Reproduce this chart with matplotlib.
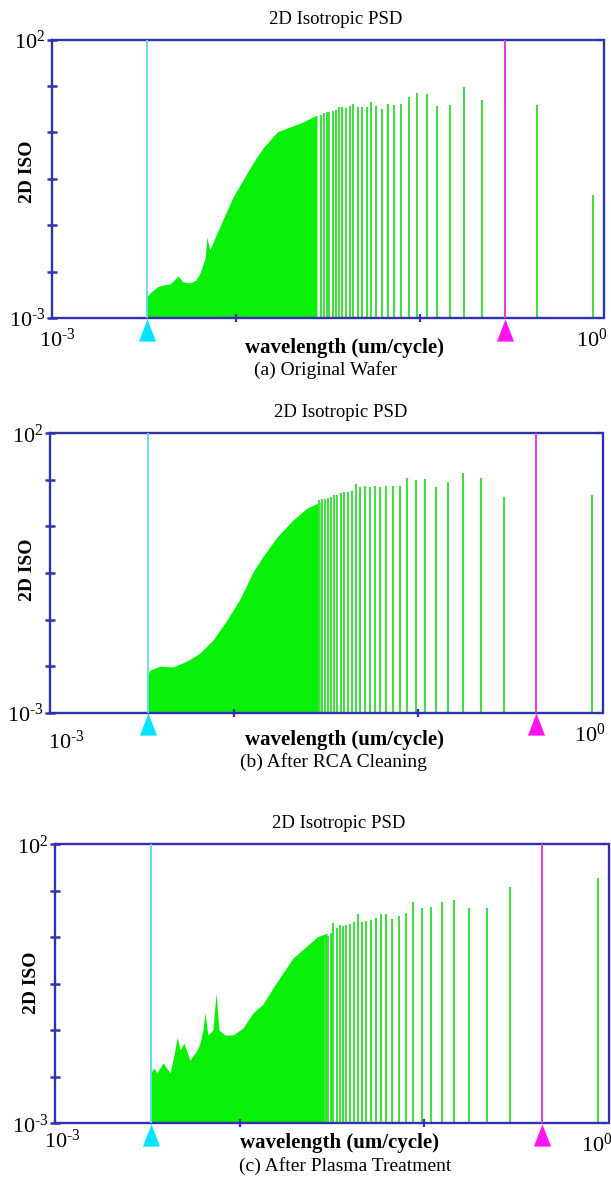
import matplotlib.pyplot as plt
import matplotlib.transforms as mtransforms
from matplotlib.ticker import NullLocator

# Liberation Serif stands in for Times
plt.rcParams['font.family'] = ['Liberation Serif', 'DejaVu Serif']
plt.rcParams['mathtext.fontset'] = 'custom'
plt.rcParams['mathtext.rm'] = 'Liberation Serif'
plt.rcParams['mathtext.it'] = 'Liberation Serif:italic'
plt.rcParams['mathtext.bf'] = 'Liberation Serif:bold'

# ------------------------------------------------
# Data
# ------------------------------------------------
# wavelengths (um/cycle) of the separated spectral lines, harmonics 1..30
wavelength = [0.870, 0.435, 0.290, 0.218, 0.174, 0.145, 0.124, 0.109, 0.0967, 0.0870,
              0.0791, 0.0725, 0.0669, 0.0621, 0.0580, 0.0544, 0.0512, 0.0483, 0.0458, 0.0435,
              0.0414, 0.0395, 0.0378, 0.0363, 0.0348, 0.0335, 0.0322, 0.0311, 0.0300, 0.0290]

# PSD of those lines
psd_a = [0.16, 6.7, 7.0, 8.2, 14.0, 6.7, 6.4, 10.5, 11.0, 9.3,
         7.0, 6.7, 7.0, 5.6, 6.4, 7.5, 6.1, 6.1, 6.1, 7.0,
         6.4, 5.9, 6.1, 6.1, 5.4, 5.2, 5.0, 4.9, 4.7, 4.5]
psd_b = [7.8, 6.0, 7.3, 15.6, 19.6, 13.6, 11.0, 15.0, 14.5, 15.6,
         11.4, 11.4, 11.4, 11.0, 11.4, 11.0, 11.4, 10.8, 12.3, 9.4,
         9.0, 9.0, 8.5, 8.0, 7.8, 7.3, 7.0, 6.8, 6.6, 6.4]
psd_c = [24.6, 15.0, 16.9, 7.1, 7.1, 10.0, 9.2, 7.4, 7.1, 9.4,
         5.9, 5.2, 4.5, 5.6, 5.6, 4.7, 4.4, 4.3, 4.1, 5.6,
         4.0, 3.8, 3.6, 3.4, 3.6, 3.2, 3.9, 2.6, 2.3, 2.1]

# envelope of the dense (short wavelength) part of the spectrum
env_wl_a = [0.00328, 0.00341, 0.00373, 0.00401, 0.00438, 0.00484, 0.00515, 0.00562,
            0.00607, 0.00637, 0.00680, 0.00695, 0.00720, 0.00789, 0.00871, 0.00964,
            0.01052, 0.01148, 0.01267, 0.01403, 0.01531, 0.01672, 0.01963, 0.02311, 0.02754]
env_psd_a = [0.00238, 0.00281, 0.00361, 0.00391, 0.00407, 0.00568, 0.00443, 0.00425,
             0.00481, 0.00643, 0.0119, 0.0284, 0.0166, 0.0336, 0.0706, 0.149,
             0.244, 0.401, 0.687, 1.13, 1.57, 2.18, 2.69, 3.30, 4.41]

env_wl_b = [0.00340, 0.00349, 0.00395, 0.00466, 0.00555, 0.00652, 0.00767, 0.00914,
            0.01074, 0.01265, 0.01432, 0.01706, 0.02084, 0.02483, 0.02924]
env_psd_b = [0.0050, 0.0058, 0.0068, 0.0066, 0.0084, 0.0117, 0.0200, 0.0455,
             0.108, 0.330, 0.625, 1.39, 2.80, 4.59, 5.88]

env_wl_c = [0.00331, 0.00344, 0.00356, 0.00385, 0.00420, 0.00441, 0.00459, 0.00476,
            0.00499, 0.00538, 0.00588, 0.00610, 0.00632, 0.00649, 0.00673, 0.00716,
            0.00745, 0.00773, 0.00832, 0.00921, 0.01042, 0.01180, 0.01337, 0.01514,
            0.01714, 0.01945, 0.02311, 0.02626, 0.02973]
env_psd_c = [0.0083, 0.0098, 0.0080, 0.0121, 0.0080, 0.0168, 0.0352, 0.0206,
             0.0275, 0.0136, 0.0206, 0.0275, 0.0470, 0.0949, 0.0382, 0.0470,
             0.216, 0.0470, 0.0382, 0.0382, 0.0511, 0.0949, 0.137, 0.266,
             0.494, 0.916, 1.50, 2.18, 2.57]

# cursor positions (um/cycle)
cyan_pos = [0.00328, 0.00340, 0.00331]
magenta_pos = [0.290, 0.435, 0.435]

captions = ['(a) Original Wafer', '(b) After RCA Cleaning', '(c) After Plasma Treatment']

# ------------------------------------------------
# Styling / layout (pixel positions on a 611 x 1178 canvas)
# ------------------------------------------------
W, H = 611, 1178
axis_col = '#3030b0'
fill_col = '#08f008'
bar_col = '#45dc45'
cyan_line = '#5cd9ee'
cyan_tri = '#00e5ff'
mag_line = '#dc46dc'
mag_tri = '#ff14f0'

# axes box: left, right, top, bottom in px
boxes = [(52, 604, 39.5, 318), (50, 602.7, 433.3, 712.7), (55, 609, 844.3, 1123.3)]
# text anchors: title, xlabel, caption, ylabel, x tick left, x tick right
text_pos = [
    dict(title=(336, 20), xlab=(344, 348), cap=(326, 370), ylab=(28, 172), xl=(57, 340), xr=(592, 340)),
    dict(title=(341, 413), xlab=(344, 740), cap=(333, 762), ylab=(27, 570), xl=(66, 742), xr=(590, 735)),
    dict(title=(339, 823), xlab=(339, 1143), cap=(345, 1166), ylab=(31, 983), xl=(62, 1141), xr=(597, 1145)),
]

bar_sets = [psd_a, psd_b, psd_c]
envelopes = [(env_wl_a, env_psd_a), (env_wl_b, env_psd_b), (env_wl_c, env_psd_c)]

lbl_lo = r'$10^{\text{-}3}$'
lbl_hi = r'$10^{2}$'
lbl_one = r'$10^{0}$'

fig = plt.figure(figsize=(W / 100, H / 100), dpi=100)

tri = [(-0.77, -1.0), (0.77, -1.0), (0.0, 1.0)]
yticks = [10 ** (-3 + 5 * i / 6) for i in range(7)]


def fx(x):
    return x / W


def fy(y):
    return 1 - y / H


for i in range(3):
    l, r, t, b = boxes[i]
    ax = fig.add_axes([fx(l), fy(b), (r - l) / W, (b - t) / H])
    ax.set_xscale('log')
    ax.set_yscale('log')
    ax.set_xlim(1e-3, 1.0)
    ax.set_ylim(1e-3, 1e2)

    # dense part of the spectrum
    ew, ep = envelopes[i]
    ax.fill_between(ew, 1e-3, ep, color=fill_col, lw=0, zorder=1)
    # separated lines
    ax.vlines(wavelength, 1e-3, bar_sets[i], colors=bar_col, lw=1.5, zorder=1.5)

    # cursors
    ax.axvline(cyan_pos[i], color=cyan_line, lw=1.3, zorder=3)
    ax.axvline(magenta_pos[i], color=mag_line, lw=1.5, zorder=3)
    trans = ax.get_xaxis_transform() + mtransforms.ScaledTranslation(0, -0.115, fig.dpi_scale_trans)
    ax.plot([cyan_pos[i]], [0], marker=tri, ms=16, color=cyan_tri, mec='none',
            transform=trans, clip_on=False, zorder=4)
    ax.plot([magenta_pos[i]], [0], marker=tri, ms=16, color=mag_tri, mec='none',
            transform=trans, clip_on=False, zorder=4)

    # frame
    for s in ax.spines.values():
        s.set_color(axis_col)
        s.set_linewidth(1.7)
    ax.spines['top'].set_bounds(1e-3, 0.95)
    ax.spines['bottom'].set_bounds(1e-3, 0.95)

    ax.xaxis.set_minor_locator(NullLocator())
    ax.yaxis.set_minor_locator(NullLocator())
    ax.set_xticks([1e-2, 1e-1])
    ax.set_xticklabels(['', ''])
    ax.tick_params(axis='x', direction='inout', length=6, width=1.6, color=axis_col, top=False)
    ax.set_yticks(yticks)
    ax.set_yticklabels([lbl_lo, '', '', '', '', '', lbl_hi])
    ax.tick_params(axis='y', direction='inout', length=7, width=1.8, color=axis_col,
                   right=False, labelsize=16, pad=1)

    # right bracket: stubs only at the two ends
    ax2 = ax.twinx()
    ax2.set_yscale('log')
    ax2.set_ylim(1e-3, 1e2)
    ax2.yaxis.set_minor_locator(NullLocator())
    ax2.set_yticks([1e-3, 1e2])
    ax2.set_yticklabels(['', ''])
    ax2.tick_params(axis='y', direction='in', length=4, width=1.6, color=axis_col)
    for s in ax2.spines.values():
        s.set_visible(False)

    tp = text_pos[i]
    fig.text(fx(tp['title'][0]), fy(tp['title'][1]), '2D Isotropic PSD',
             ha='center', va='center', fontsize=13.5)
    fig.text(fx(tp['xlab'][0]), fy(tp['xlab'][1]), 'wavelength (um/cycle)',
             ha='center', va='center', fontsize=15, fontweight='bold')
    fig.text(fx(tp['cap'][0]), fy(tp['cap'][1]), captions[i],
             ha='center', va='center', fontsize=14)
    fig.text(fx(tp['ylab'][0]), fy(tp['ylab'][1]), '2D ISO', rotation=90,
             ha='center', va='center', fontsize=14, fontweight='bold')
    fig.text(fx(tp['xl'][0]), fy(tp['xl'][1]), lbl_lo, ha='center', va='center', fontsize=16)
    fig.text(fx(tp['xr'][0]), fy(tp['xr'][1]), lbl_one, ha='center', va='center', fontsize=16)

fig.savefig('out.png', dpi=100, facecolor='white')
